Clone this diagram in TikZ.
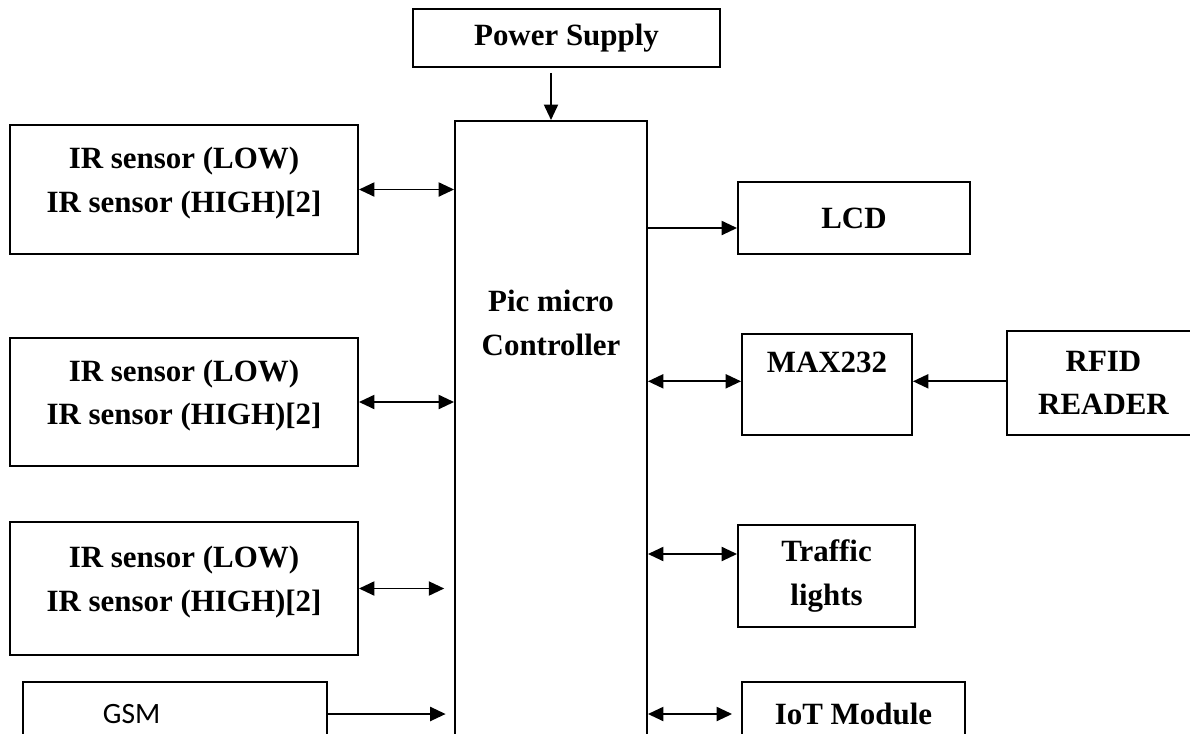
\documentclass[tikz,border=0pt]{standalone}
\usepackage{fontspec}
\setmainfont{Liberation Serif}
\newfontfamily\gsmfont{Carlito}
\usetikzlibrary{arrows.meta}

\tikzset{
  box/.style={draw, line width=1.3pt, font=\bfseries\fontsize{22}{31}\selectfont, align=center, inner sep=0pt},
  arr/.style={line width=1.4pt, -{Triangle[length=11pt,width=10pt]}},
  both/.style={line width=1.4pt, {Triangle[length=11pt,width=10pt]}-{Triangle[length=11pt,width=10pt]}}
}

\begin{document}
\begin{tikzpicture}[x=0.025cm, y=-0.025cm]
  \path[use as bounding box, clip] (0,0) rectangle (1190,733);
  % controller and supply
  \node[box, minimum width=7.675cm, minimum height=1.45cm] (power) at (566.5,38) {Power Supply};
  \node[box, minimum width=4.8cm, minimum height=16.975cm] (ctrl) at (551,460.5) {};
  \node[box, draw=none] (ctrltxt) at (551,323) {Pic micro\\Controller};
  % left side
  \foreach \id / \y / \h in {ir1/189.5/3.225, ir2/402/3.2, ir3/588.5/3.325}{
    \node[box, minimum width=8.7cm, minimum height=\h cm, text depth=14pt] (\id) at (184,\y) {IR sensor (LOW)\\IR sensor (HIGH)[2]};
  }
  \node[box, font=\gsmfont\fontsize{21}{25}\selectfont, text width=3.6cm, inner xsep=2cm, align=left, minimum height=1.6cm] (gsm) at (175,714) {GSM};
  % right side
  \node[box, minimum width=5.8cm, minimum height=1.8cm] (lcd) at (854,218) {LCD};
  \node[box, minimum width=4.25cm, minimum height=2.525cm, text depth=32pt] (max) at (827,384.5) {MAX232};
  \node[box, minimum width=4.825cm, minimum height=2.6cm] (rfid) at (1103.5,383) {RFID\\READER};
  \node[box, minimum width=4.425cm, minimum height=2.55cm] (traffic) at (826.5,576) {Traffic\\lights};
  \node[box, minimum width=5.575cm, minimum height=1.6cm] (iot) at (853.5,714) {IoT Module};
  % links
  \coordinate (lcdin) at ([yshift=-0.25cm]lcd.west);
  \coordinate (maxin) at ([yshift=0.08cm]max.west);
  \coordinate (trin) at ([yshift=0.55cm]traffic.west);
  \draw[arr, shorten <=3.5pt] (ctrl.north |- power.south) -- (ctrl.north);
  \draw[both] (ir1.east) -- (ir1.east -| ctrl.west);
  \draw[both] (ir2.east) -- (ir2.east -| ctrl.west);
  \draw[both, shorten >=7pt] (ir3.east) -- (ir3.east -| ctrl.west);
  \draw[arr, shorten >=6pt] (gsm.east) -- (gsm.east -| ctrl.west);
  \draw[arr] (lcdin -| ctrl.east) -- (lcdin);
  \draw[both] (maxin -| ctrl.east) -- (maxin);
  \draw[arr] (maxin -| rfid.west) -- (maxin -| max.east);
  \draw[both] (trin -| ctrl.east) -- (trin);
  \draw[both, shorten >=6.4pt] (iot.west -| ctrl.east) -- (iot.west);
\end{tikzpicture}
\end{document}
